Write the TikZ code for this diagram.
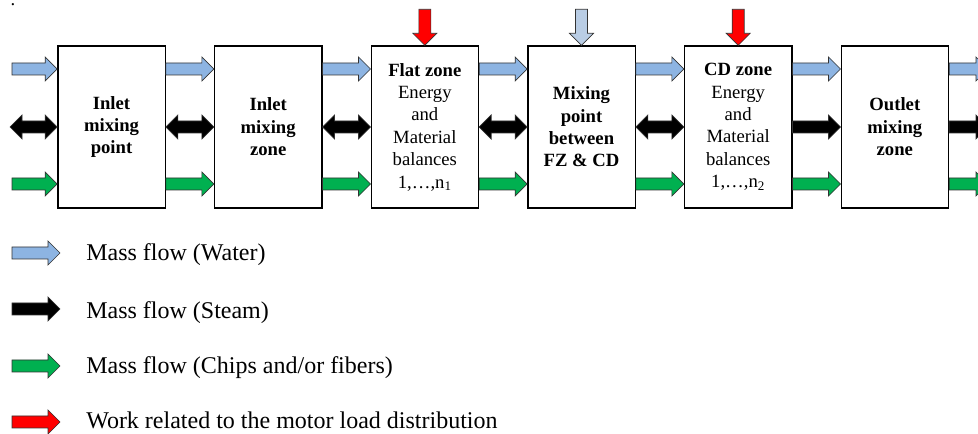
\documentclass[tikz,border=0pt]{standalone}
\usepackage{fontspec}
\setmainfont{Liberation Serif}
\usetikzlibrary{calc,positioning}

\definecolor{waterblue}{RGB}{141,180,226}
\definecolor{feedblue}{RGB}{185,205,229}
\definecolor{chipgreen}{RGB}{0,176,80}
\definecolor{workred}{RGB}{255,0,0}

% block arrow sizes
\newcommand{\shafthw}{4.5pt}
\newcommand{\headhw}{9pt}
\newcommand{\headlen}{9pt}

\tikzset{
    % single block arrow from start to target
    flow/.style={draw=black!80, line width=0.5pt, to path={
        ($(\tikztostart)!\shafthw!90:(\tikztotarget)$)
        -- ($(\tikztotarget)!\headlen!(\tikztostart)!\shafthw!90:(\tikztotarget)$)
        -- ($(\tikztotarget)!\headlen!(\tikztostart)!\headhw!90:(\tikztotarget)$)
        -- (\tikztotarget)
        -- ($(\tikztotarget)!\headlen!(\tikztostart)!\headhw!-90:(\tikztotarget)$)
        -- ($(\tikztotarget)!\headlen!(\tikztostart)!\shafthw!-90:(\tikztotarget)$)
        -- ($(\tikztostart)!\shafthw!-90:(\tikztotarget)$) -- cycle}},
    % double block arrow
    flowboth/.style={draw=black!80, line width=0.5pt, to path={
        (\tikztostart)
        -- ($(\tikztostart)!\headlen!(\tikztotarget)!\headhw!90:(\tikztotarget)$)
        -- ($(\tikztostart)!\headlen!(\tikztotarget)!\shafthw!90:(\tikztotarget)$)
        -- ($(\tikztotarget)!\headlen!(\tikztostart)!\shafthw!90:(\tikztotarget)$)
        -- ($(\tikztotarget)!\headlen!(\tikztostart)!\headhw!90:(\tikztotarget)$)
        -- (\tikztotarget)
        -- ($(\tikztotarget)!\headlen!(\tikztostart)!\headhw!-90:(\tikztotarget)$)
        -- ($(\tikztotarget)!\headlen!(\tikztostart)!\shafthw!-90:(\tikztotarget)$)
        -- ($(\tikztostart)!\headlen!(\tikztotarget)!\shafthw!-90:(\tikztotarget)$)
        -- ($(\tikztostart)!\headlen!(\tikztotarget)!\headhw!-90:(\tikztotarget)$)
        -- cycle}},
    water/.style={flow, fill=waterblue},
    feed/.style={flow, fill=feedblue},
    chips/.style={flow, fill=chipgreen},
    work/.style={flow, fill=workred},
    steam/.style={flowboth, fill=black},
    steamout/.style={flow, fill=black}
}

\begin{document}
\begin{tikzpicture}[
    x=0.75pt, y=-0.75pt,
    box/.style={draw, line width=1pt, minimum width=80.5pt, minimum height=121.5pt,
        inner sep=0pt, align=center, font=\fontsize{14}{16.8}\selectfont},
    legend/.style={anchor=base west, inner sep=0pt, font=\fontsize{18}{21}\selectfont},
    node distance=36pt
]
    \useasboundingbox (0,0) rectangle (978,434);

    \node[inner sep=0pt, anchor=base, font=\fontsize{14}{16.8}\selectfont] (dot) at (13,6) {.};

    % zones
    \node[box, font=\fontsize{14}{16.8}\selectfont\bfseries] (b1) at (111.5,127) {Inlet\\mixing\\point};
    \node[box, font=\fontsize{14}{16.8}\selectfont\bfseries, right=of b1] (b2) {Inlet\\mixing\\zone};
    \node[box, right=of b2] (b3) {\textbf{Flat zone}\\Energy\\and\\Material\\balances\\1,\dots,n\textsubscript{1}};
    \node[box, font=\fontsize{14}{16.8}\selectfont\bfseries, right=of b3] (b4) {Mixing\\point\\between\\FZ \& CD};
    \node[box, right=of b4] (b5) {\textbf{CD zone}\\Energy\\and\\Material\\balances\\1,\dots,n\textsubscript{2}};
    \node[box, font=\fontsize{14}{16.8}\selectfont\bfseries, right=of b5] (b6) {Outlet\\mixing\\zone};

    % flow levels and free ends
    \coordinate (water) at (0,69);
    \coordinate (chips) at (0,184);
    \coordinate (inw) at (12,69);
    \coordinate (ins) at (10,127);
    \coordinate (inc) at (12,184);
    \coordinate (outw) at (988,69);
    \coordinate (outs) at (988,127);
    \coordinate (outc) at (988,184);

    % water
    \draw[water] (inw) to (b1.west |- water);
    \draw[water] (b1.east |- water) to (b2.west |- water);
    \draw[water] (b2.east |- water) to (b3.west |- water);
    \draw[water] (b3.east |- water) to (b4.west |- water);
    \draw[water] (b4.east |- water) to (b5.west |- water);
    \draw[water] (b5.east |- water) to (b6.west |- water);
    \draw[water] (b6.east |- water) to (outw);

    % steam
    \draw[steam] (ins) to (b1.west);
    \draw[steam] (b1.east) to (b2.west);
    \draw[steam] (b2.east) to (b3.west);
    \draw[steam] (b3.east) to (b4.west);
    \draw[steam] (b4.east) to (b5.west);
    \draw[steamout] (b5.east) to (b6.west);
    \draw[steamout] (b6.east) to (outs);

    % chips
    \draw[chips] (inc) to (b1.west |- chips);
    \draw[chips] (b1.east |- chips) to (b2.west |- chips);
    \draw[chips] (b2.east |- chips) to (b3.west |- chips);
    \draw[chips] (b3.east |- chips) to (b4.west |- chips);
    \draw[chips] (b4.east |- chips) to (b5.west |- chips);
    \draw[chips] (b5.east |- chips) to (b6.west |- chips);
    \draw[chips] (b6.east |- chips) to (outc);

    % inputs from above
    \draw[work] ([yshift=27pt]b3.north) to (b3.north);
    \draw[feed] ([yshift=27pt]b4.north) to (b4.north);
    \draw[work] ([yshift=27pt]b5.north) to (b5.north);

    % legend
    \coordinate (kwater) at (12,253);
    \coordinate (ksteam) at (12,309);
    \coordinate (kchips) at (12,366);
    \coordinate (kwork) at (12,422);
    \draw[water] (kwater) to ([xshift=36pt]kwater);
    \draw[steamout] (ksteam) to ([xshift=36pt]ksteam);
    \draw[chips] (kchips) to ([xshift=36pt]kchips);
    \draw[work] (kwork) to ([xshift=36pt]kwork);
    \node[legend] (lwater) at (86,261) {Mass flow (Water)};
    \node[legend] (lsteam) at (86,319) {Mass flow (Steam)};
    \node[legend] (lchips) at (86,374) {Mass flow (Chips and/or fibers)};
    \node[legend] (lwork) at (86,429) {Work related to the motor load distribution};
\end{tikzpicture}
\end{document}
